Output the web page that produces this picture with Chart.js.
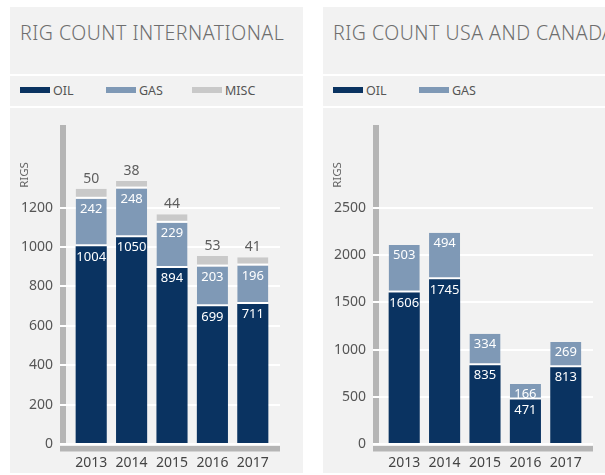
<!DOCTYPE html>
<html>
<head>
<meta charset="utf-8">
<script src="https://cdn.jsdelivr.net/npm/chart.js@4.4.0/dist/chart.umd.min.js"></script>
<style>
  body { margin: 0; width: 605px; height: 475px; overflow: hidden; position: relative; background: #fff; font-family: "Noto Sans", sans-serif; }
  .panel { position: absolute; top: 7px; width: 293px; height: 466px; background: #f2f2f2; }
  .title { position: absolute; left: 10px; top: 15.7px; font-size: 19.5px; line-height: 19px; letter-spacing: 0.5px; color: #6e6e6e; white-space: nowrap; font-weight: 300; }
  .sep { position: absolute; left: 0; right: 0; height: 2px; background: #fff; }
  .legend { position: absolute; left: 10px; top: 77px; height: 12px; display: flex; }
  .item { width: 86px; display: flex; align-items: center; font-size: 12.5px; color: #555; }
  .sw { width: 30px; height: 6px; margin-right: 3px; }
  .box { position: absolute; left: 0; top: 101px; width: 293px; height: 365px; }
</style>
</head>
<body>
<div class="panel" style="left:10px">
  <div class="title">RIG COUNT INTERNATIONAL</div>
  <div class="sep" style="top:67px"></div>
  <div class="legend" id="leg1"></div>
  <div class="sep" style="top:99px"></div>
  <div class="box"><canvas id="intl"></canvas></div>
</div>
<div class="panel" style="left:323px">
  <div class="title">RIG COUNT USA AND CANADA</div>
  <div class="sep" style="top:67px"></div>
  <div class="legend" id="leg2"></div>
  <div class="sep" style="top:99px"></div>
  <div class="box"><canvas id="usa"></canvas></div>
</div>
<script>
const years = ['2013', '2014', '2015', '2016', '2017']

const intlOil = [1004, 1050, 894, 699, 711]
const intlGas = [242, 248, 229, 203, 196]
const intlMisc = [50, 38, 44, 53, 41]
const intlTicks = [0, 200, 400, 600, 800, 1000, 1200]

const usaOil = [1606, 1745, 835, 471, 813]
const usaGas = [503, 494, 334, 166, 269]
const usaTicks = [0, 500, 1000, 1500, 2000, 2500]

const seriesNames = ['OIL', 'GAS', 'MISC']
const seriesColors = ['#0a3361', '#7f99b6', '#c9c9c9']

Chart.defaults.font.family = '"Noto Sans", sans-serif'

// grey axis bars, RIGS label, grid extension and value labels
const rigDecor = {
    id: 'rigDecor',
    beforeDraw(chart) {
        const ctx = chart.ctx
        const a = chart.chartArea
        ctx.save()
        ctx.fillStyle = '#b5b5b5'
        ctx.fillRect(a.left - 11, a.top, 6, a.bottom - a.top)
        ctx.fillRect(a.left - 11, a.bottom + 2, a.right - a.left + 18, 5.5)
        ctx.translate(a.left - 46, a.top + 50)
        ctx.rotate(-Math.PI / 2)
        ctx.font = '11.5px "Noto Sans"'
        ctx.fillStyle = '#666'
        ctx.textAlign = 'center'
        ctx.textBaseline = 'middle'
        ctx.fillText('RIGS', 0, 0)
        ctx.restore()
    },
    beforeDatasetsDraw(chart) {
        const ctx = chart.ctx
        const a = chart.chartArea
        const y = chart.scales.y
        ctx.save()
        ctx.strokeStyle = '#fff'
        ctx.lineWidth = 2
        y.ticks.forEach(t => {
            const py = Math.round(y.getPixelForValue(t.value))
            ctx.beginPath()
            ctx.moveTo(a.right, py)
            ctx.lineTo(a.right + 7, py)
            ctx.stroke()
        })
        ctx.restore()
    },
    afterDatasetsDraw(chart) {
        const ctx = chart.ctx
        ctx.save()
        ctx.textAlign = 'center'
        ctx.textBaseline = 'middle'
        chart.data.datasets.forEach((ds, i) => {
            const meta = chart.getDatasetMeta(i)
            meta.data.forEach((bar, j) => {
                if (ds.label === 'MISC') {
                    ctx.font = '14px "Noto Sans"'
                    ctx.fillStyle = '#5e5e5e'
                    ctx.fillText(ds.data[j], bar.x, bar.y - 10)
                } else {
                    ctx.font = '13px "Noto Sans"'
                    ctx.fillStyle = '#fff'
                    ctx.fillText(ds.data[j], bar.x, bar.y + 10.5)
                }
            })
        })
        ctx.restore()
    }
}

function makeLegend(id, count) {
    const leg = document.getElementById(id)
    for (let i = 0; i < count; i++) {
        const item = document.createElement('div')
        item.className = 'item'
        item.innerHTML = '<span class="sw" style="background:' + seriesColors[i] + '"></span>' + seriesNames[i]
        leg.appendChild(item)
    }
}

function renderRigChart(id, series, max, tickValues) {
    const datasets = series.map((data, i) => ({
        label: seriesNames[i],
        data: data,
        backgroundColor: seriesColors[i],
        borderColor: '#fff',
        borderWidth: i === 0 ? 0 : { bottom: 2, top: 0, left: 0, right: 0 },
        borderSkipped: false,
        barPercentage: 0.77,
        categoryPercentage: 1
    }))

    new Chart(document.getElementById(id), {
        type: 'bar',
        data: { labels: years, datasets: datasets },
        plugins: [rigDecor],
        options: {
            responsive: true,
            maintainAspectRatio: false,
            animation: false,
            layout: { padding: { left: 0, right: 30, top: 17, bottom: 0 } },
            plugins: { legend: { display: false }, tooltip: { enabled: false } },
            scales: {
                x: {
                    stacked: true,
                    grid: { display: false, drawTicks: false },
                    border: { display: false },
                    ticks: { padding: 11, color: '#444', font: { size: 14 } },
                    afterFit(scale) { scale.height = 29 }
                },
                y: {
                    stacked: true,
                    min: 0,
                    max: max,
                    grid: { color: '#fff', lineWidth: 2, tickLength: 11, drawTicks: true },
                    border: { display: false },
                    ticks: { padding: 7, color: '#555', font: { size: 14 }, callback: v => String(v) },
                    afterBuildTicks(scale) { scale.ticks = tickValues.map(v => ({ value: v })) },
                    afterFit(scale) { scale.width = 61 }
                }
            }
        }
    })
}

makeLegend('leg1', 3)
makeLegend('leg2', 2)
renderRigChart('intl', [intlOil, intlGas, intlMisc], 1620, intlTicks)
renderRigChart('usa', [usaOil, usaGas], 3380, usaTicks)
</script>
</body>
</html>
